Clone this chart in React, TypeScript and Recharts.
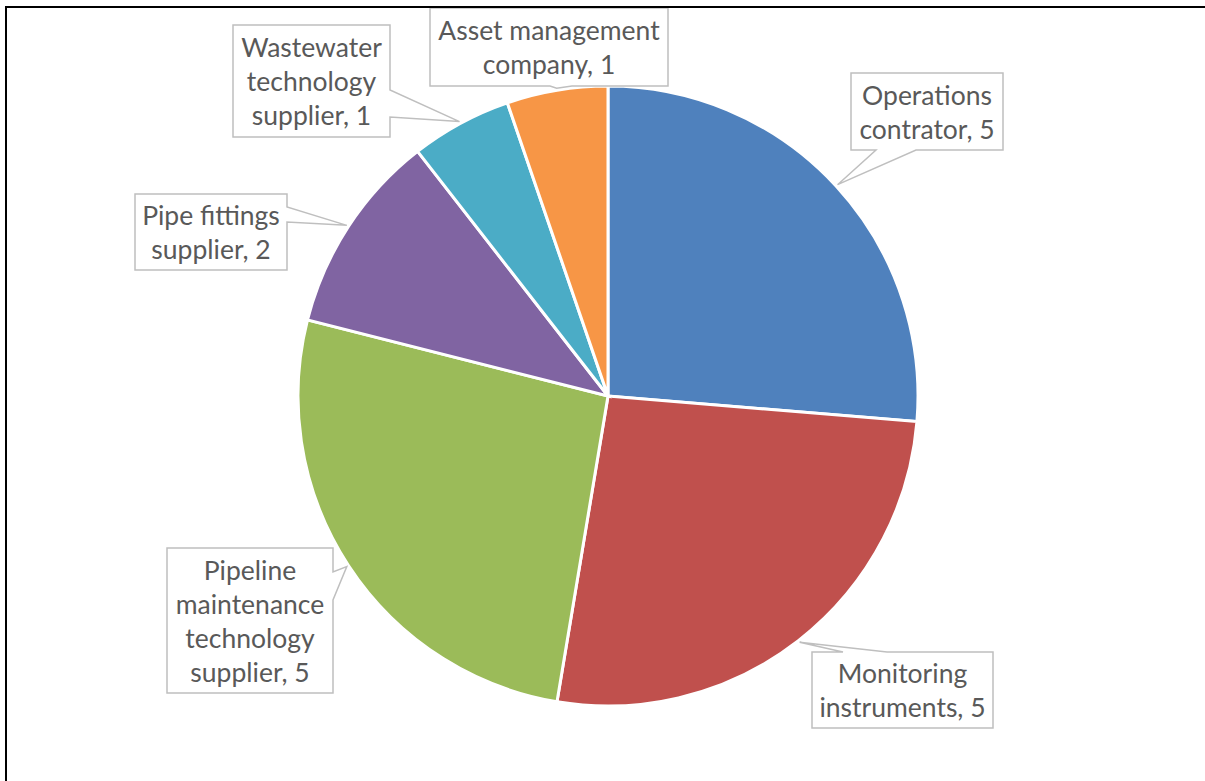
import React from 'react';
import { PieChart, Pie, Cell } from 'recharts';

const categories = [
    'Operations contrator',
    'Monitoring instruments',
    'Pipeline maintenance technology supplier',
    'Pipe fittings supplier',
    'Wastewater technology supplier',
    'Asset management company',
];
const counts = [5, 5, 5, 2, 1, 1];
// how many words go on each line of the callout text
const wordsPerLine = [[1, 2], [1, 2], [1, 1, 1, 2], [2, 2], [1, 1, 2], [2, 2]];

const colors = ['#4F81BD', '#C0504D', '#9BBB59', '#8064A2', '#4BACC6', '#F79646'];

type Side = 'top' | 'right' | 'bottom' | 'left';
interface Box { x: number; y: number; w: number; h: number; side: Side; a: number; b: number; }

// callout boxes, in page pixels
const boxes: Box[] = [
    { x: 851, y: 73, w: 152, h: 77, side: 'bottom', a: 876, b: 916 },
    { x: 812, y: 652, w: 181, h: 76, side: 'top', a: 843, b: 887 },
    { x: 167, y: 548, w: 166, h: 145, side: 'right', a: 572, b: 600 },
    { x: 135, y: 194, w: 152, h: 76, side: 'right', a: 207, b: 222 },
    { x: 233, y: 25, w: 157, h: 112, side: 'right', a: 90, b: 117 },
    { x: 430, y: 8, w: 238, h: 78, side: 'bottom', a: 550, b: 572 },
];

const data = categories.map((name, i) => ({ name, value: counts[i] }));

const RAD = Math.PI / 180;

const calloutPath = (bx: Box, tx: number, ty: number) => {
    const { x, y, w, h, side, a, b } = bx;
    const pts: [number, number][] = [[x, y]];
    if (side === 'top') pts.push([a, y], [tx, ty], [b, y]);
    pts.push([x + w, y]);
    if (side === 'right') pts.push([x + w, a], [tx, ty], [x + w, b]);
    pts.push([x + w, y + h]);
    if (side === 'bottom') pts.push([b, y + h], [tx, ty], [a, y + h]);
    pts.push([x, y + h]);
    if (side === 'left') pts.push([x, b], [tx, ty], [x, a]);
    return 'M' + pts.map(p => p[0] + ',' + p[1]).join('L') + 'Z';
};

const renderCallout = (props: any) => {
    const { cx, cy, midAngle, outerRadius, index, name, value } = props;
    const bx = boxes[index];
    const tx = cx + (outerRadius + 2) * Math.cos(-midAngle * RAD);
    const ty = cy + (outerRadius + 2) * Math.sin(-midAngle * RAD);
    const words = `${name}, ${value}`.split(' ');
    const lines: string[] = [];
    let k = 0;
    wordsPerLine[index].forEach(n => {
        lines.push(words.slice(k, k + n).join(' '));
        k += n;
    });
    const lh = 34;
    const midY = bx.y + bx.h / 2;
    const startY = midY - ((lines.length - 1) * lh) / 2;
    return (
        <g key={`callout-${index}`}>
            <path d={calloutPath(bx, tx, ty)} fill="#ffffff" stroke="#bfbfbf" strokeWidth={1.5} />
            <text
                x={bx.x + bx.w / 2}
                textAnchor="middle"
                fill="#595959"
                fontFamily="Lato, 'Open Sans', sans-serif"
                fontSize={26.5}
            >
                {lines.map((ln, i) => (
                    <tspan key={i} x={bx.x + bx.w / 2} y={startY + i * lh} dominantBaseline="central">
                        {ln}
                    </tspan>
                ))}
            </text>
        </g>
    );
};

export default function App() {
    return (
        <div style={{ position: 'absolute', left: 0, top: 0, width: 1205, height: 781, background: '#ffffff', overflow: 'hidden' }}>
            <div style={{ position: 'absolute', left: 0, top: 0 }}>
                <PieChart width={1205} height={781} margin={{ top: 0, right: 0, bottom: 0, left: 0 }}>
                    <Pie
                        data={data}
                        dataKey="value"
                        nameKey="name"
                        cx={608}
                        cy={396}
                        outerRadius={310}
                        startAngle={90}
                        endAngle={-270}
                        stroke="#ffffff"
                        strokeWidth={3}
                        labelLine={false}
                        label={renderCallout}
                        isAnimationActive={false}
                    >
                        {data.map((d, i) => (
                            <Cell key={d.name} fill={colors[i]} />
                        ))}
                    </Pie>
                </PieChart>
            </div>
            <div
                style={{
                    position: 'absolute',
                    left: 5,
                    top: 6,
                    width: 1210,
                    height: 790,
                    borderLeft: '2px solid #000000',
                    borderTop: '2px solid #000000',
                    pointerEvents: 'none',
                    zIndex: 5,
                }}
            />
        </div>
    );
}
